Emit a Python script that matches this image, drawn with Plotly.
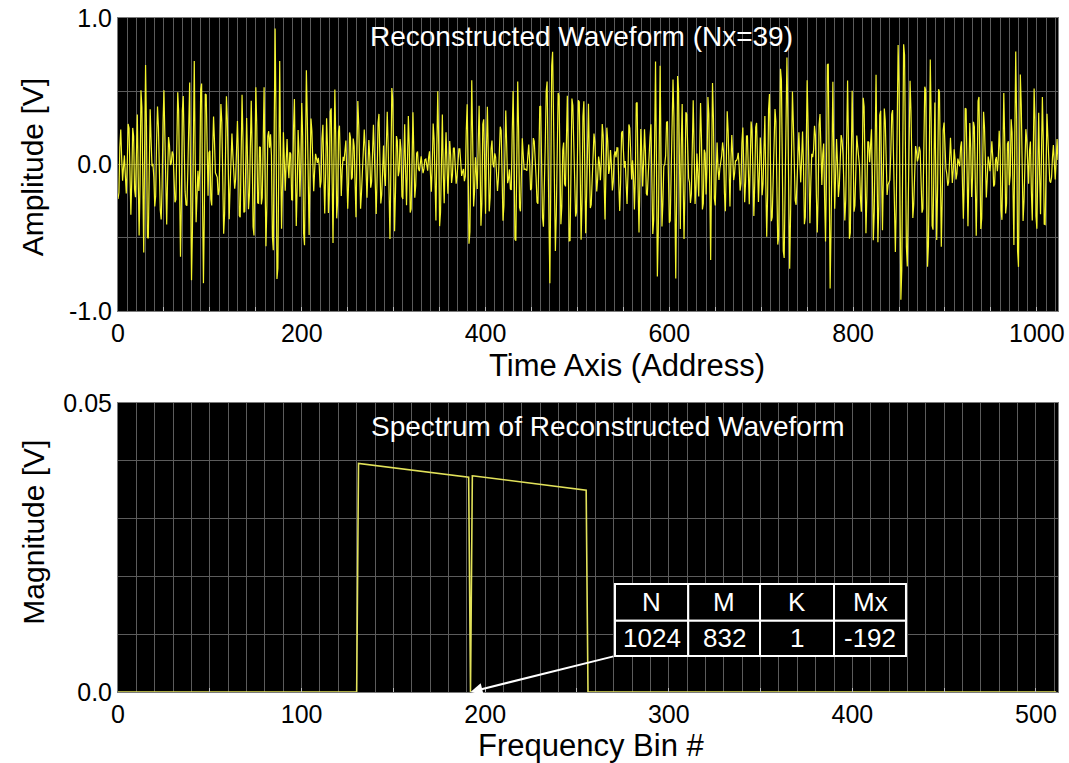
import numpy as np
import plotly.graph_objects as go

# ---------------- data ----------------
N_SAMPLES = 1024          # time-domain record length (address 0..1023)
N_BINS = 512              # spectrum bins shown (0..511)

# Spectrum magnitude [mV] of the occupied band
band_lower_start = 131
band_lower_mV = [
    39.56, 39.52, 39.48, 39.44, 39.40, 39.36, 39.32, 39.28, 39.24, 39.20,
    39.16, 39.12, 39.08, 39.04, 39.00, 38.96, 38.92, 38.88, 38.84, 38.80,
    38.76, 38.72, 38.68, 38.64, 38.60, 38.56, 38.52, 38.48, 38.44, 38.40,
    38.36, 38.32, 38.28, 38.24, 38.20, 38.16, 38.12, 38.08, 38.04, 38.00,
    37.96, 37.92, 37.88, 37.84, 37.80, 37.76, 37.72, 37.68, 37.64, 37.60,
    37.56, 37.52, 37.48, 37.44, 37.40, 37.36, 37.32, 37.28, 37.24, 37.20,
    37.16,
]
gap_bin = 192
band_upper_start = 193
band_upper_mV = [
    37.40, 37.36, 37.32, 37.28, 37.24, 37.20, 37.16, 37.12, 37.08, 37.04,
    37.00, 36.96, 36.92, 36.88, 36.84, 36.80, 36.76, 36.72, 36.68, 36.64,
    36.60, 36.56, 36.52, 36.48, 36.44, 36.40, 36.36, 36.32, 36.28, 36.24,
    36.20, 36.16, 36.12, 36.08, 36.04, 36.00, 35.96, 35.92, 35.88, 35.84,
    35.80, 35.76, 35.72, 35.68, 35.64, 35.60, 35.56, 35.52, 35.48, 35.44,
    35.40, 35.36, 35.32, 35.28, 35.24, 35.20, 35.16, 35.12, 35.08, 35.04,
    35.00, 34.96, 34.92,
]

time_tick_vals = [0, 200, 400, 600, 800, 1000]
time_tick_labels = ["0", "200", "400", "600", "800", "1000"]
amp_tick_vals = [-1.0, 0.0, 1.0]
amp_tick_labels = ["-1.0", "0.0", "1.0"]
freq_tick_vals = [0, 100, 200, 300, 400, 500]
freq_tick_labels = ["0", "100", "200", "300", "400", "500"]
mag_tick_vals = [0.0, 0.05]
mag_tick_labels = ["0.0", "0.05"]

table_headers = ["N", "M", "K", "Mx"]
table_values = ["1024", "832", "1", "-192"]

title_top = "Reconstructed Waveform (Nx=39)"
title_bottom = "Spectrum of Reconstructed Waveform"

# ---------------- derived series ----------------
bins = np.arange(N_BINS)
spectrum = np.zeros(N_BINS)
spectrum[band_lower_start:band_lower_start + len(band_lower_mV)] = np.array(band_lower_mV) / 1000.0
spectrum[band_upper_start:band_upper_start + len(band_upper_mV)] = np.array(band_upper_mV) / 1000.0
spectrum[gap_bin] = 0.0

# Time waveform = inverse DFT of the read spectrum (phases unknown in the
# picture; a fixed deterministic cubic phase law is used).
n = np.arange(N_SAMPLES)
golden = (1 + 5 ** 0.5) / 2
phase = 2 * np.pi * np.mod(bins.astype(float) ** 3 * golden, 1.0)
wave = np.cos(2 * np.pi * np.outer(n, bins) / N_SAMPLES + phase) @ spectrum

# ---------------- figure ----------------
FONT = "Liberation Sans, Arial, sans-serif"
GRID = "#5c5c5c"
TICK_FONT = dict(family=FONT, size=25, color="black")

fig = go.Figure()
fig.add_trace(go.Scatter(x=n, y=wave, mode="lines", xaxis="x", yaxis="y",
                         line=dict(color="#f5f52c", width=1.2), showlegend=False,
                         hoverinfo="skip"))
fig.add_trace(go.Scatter(x=bins, y=spectrum, mode="lines", xaxis="x2", yaxis="y2",
                         line=dict(color="#e2e25a", width=1.6), showlegend=False,
                         hoverinfo="skip"))

t_vals = list(range(0, 1001, 50))
t_text = [time_tick_labels[time_tick_vals.index(v)] if v in time_tick_vals else "" for v in t_vals]
f_vals = list(range(0, 501, 50))
f_text = [freq_tick_labels[freq_tick_vals.index(v)] if v in freq_tick_vals else "" for v in f_vals]

common_x = dict(showgrid=True, gridcolor=GRID, gridwidth=1, zeroline=False,
                showline=True, linecolor="#7a7a7a", mirror=True, automargin=False,
                ticks="inside", ticklen=4, tickcolor="#bbbbbb",
                tickfont=TICK_FONT, tickangle=0, ticklabeloverflow="allow",
                minor=dict(dtick=10, tick0=0, showgrid=True, gridcolor=GRID, gridwidth=1, ticks=""))
common_y = dict(showgrid=True, gridcolor=GRID, gridwidth=1, zeroline=False,
                showline=True, linecolor="#7a7a7a", mirror=True, ticks="",
                automargin=False, tickfont=TICK_FONT, ticklabeloverflow="allow")

top_dom = [0.5653, 1.0]
bot_dom = [0.0, 0.4288]

fig.update_layout(
    width=1069, height=763,
    margin=dict(l=118, r=11, t=18, b=71),
    paper_bgcolor="white", plot_bgcolor="black",
    font=dict(family=FONT, color="black"),
    xaxis=dict(domain=[0, 1], anchor="y", range=[0, N_SAMPLES - 1],
               tickmode="array", tickvals=t_vals, ticktext=t_text, **common_x),
    yaxis=dict(domain=top_dom, anchor="x", range=[-1, 1], tickmode="array",
               tickvals=amp_tick_vals, ticktext=amp_tick_labels,
               minor=dict(dtick=0.5, tick0=0, showgrid=True, gridcolor=GRID, ticks=""),
               **common_y),
    xaxis2=dict(domain=[0, 1], anchor="y2", range=[0, N_BINS],
                tickmode="array", tickvals=f_vals, ticktext=f_text, **common_x),
    yaxis2=dict(domain=bot_dom, anchor="x2", range=[0, 0.05], tickmode="array",
                tickvals=mag_tick_vals, ticktext=mag_tick_labels,
                minor=dict(dtick=0.01, tick0=0, showgrid=True, gridcolor=GRID, ticks=""),
                **common_y),
)

ann = []
AX_FONT = dict(family=FONT, size=30, color="black")
AX_FONT_H = dict(family=FONT, size=31, color="black")
# axis titles
ann.append(dict(text="Amplitude [V]", x=-0.09, y=0.779, xref="paper", yref="paper",
                textangle=-90, showarrow=False, font=AX_FONT, xanchor="center", yanchor="middle"))
ann.append(dict(text="Time Axis (Address)", x=0.541, y=0.484, xref="paper", yref="paper",
                showarrow=False, font=AX_FONT_H, xanchor="center", yanchor="middle"))
ann.append(dict(text="Magnitude [V]", x=-0.09, y=0.237, xref="paper", yref="paper",
                textangle=-90, showarrow=False, font=AX_FONT, xanchor="center", yanchor="middle"))
ann.append(dict(text="Frequency Bin #", x=0.503, y=-0.079, xref="paper", yref="paper",
                showarrow=False, font=AX_FONT_H, xanchor="center", yanchor="middle"))
# in-plot titles
TITLE_FONT = dict(family=FONT, size=28, color="white")
ann.append(dict(text=title_top, x=0.4936, y=0.972, xref="paper", yref="paper",
                showarrow=False, font=TITLE_FONT, xanchor="center", yanchor="middle"))
ann.append(dict(text=title_bottom, x=0.521, y=0.394, xref="paper", yref="paper",
                showarrow=False, font=TITLE_FONT, xanchor="center", yanchor="middle"))

# parameter table (placed in the spectrum panel's data coordinates)
col_edges = [270.7, 310.6, 349.7, 390.0, 429.2]
row_edges = [0.01869, 0.01234, 0.00623]
shapes = []
for r in range(2):
    for c in range(4):
        shapes.append(dict(type="rect", xref="x2", yref="y2",
                           x0=col_edges[c], x1=col_edges[c + 1],
                           y0=row_edges[r + 1], y1=row_edges[r],
                           fillcolor="black", line=dict(color="white", width=2), layer="above"))
CELL_FONT = dict(family=FONT, size=26, color="white")
for c in range(4):
    xc = (col_edges[c] + col_edges[c + 1]) / 2
    ann.append(dict(text=table_headers[c], x=xc, y=(row_edges[0] + row_edges[1]) / 2,
                    xref="x2", yref="y2", showarrow=False, font=CELL_FONT,
                    xanchor="center", yanchor="middle"))
    ann.append(dict(text=table_values[c], x=xc, y=(row_edges[1] + row_edges[2]) / 2,
                    xref="x2", yref="y2", showarrow=False, font=CELL_FONT,
                    xanchor="center", yanchor="middle"))
# arrow from table corner to the gap bin
ann.append(dict(text="", x=gap_bin, y=0.0, xref="x2", yref="y2",
                ax=col_edges[0], ay=row_edges[2], axref="x2", ayref="y2",
                showarrow=True, arrowhead=2, arrowsize=1.2, arrowwidth=2,
                arrowcolor="white"))

fig.update_layout(annotations=ann, shapes=shapes)
# remove the browser's default 8 px body margin so the figure fills the window
fig.write_html("out.html",
               config={"displayModeBar": False, "staticPlot": True},
               post_script="document.body.style.margin='0';document.body.style.overflow='hidden';")
